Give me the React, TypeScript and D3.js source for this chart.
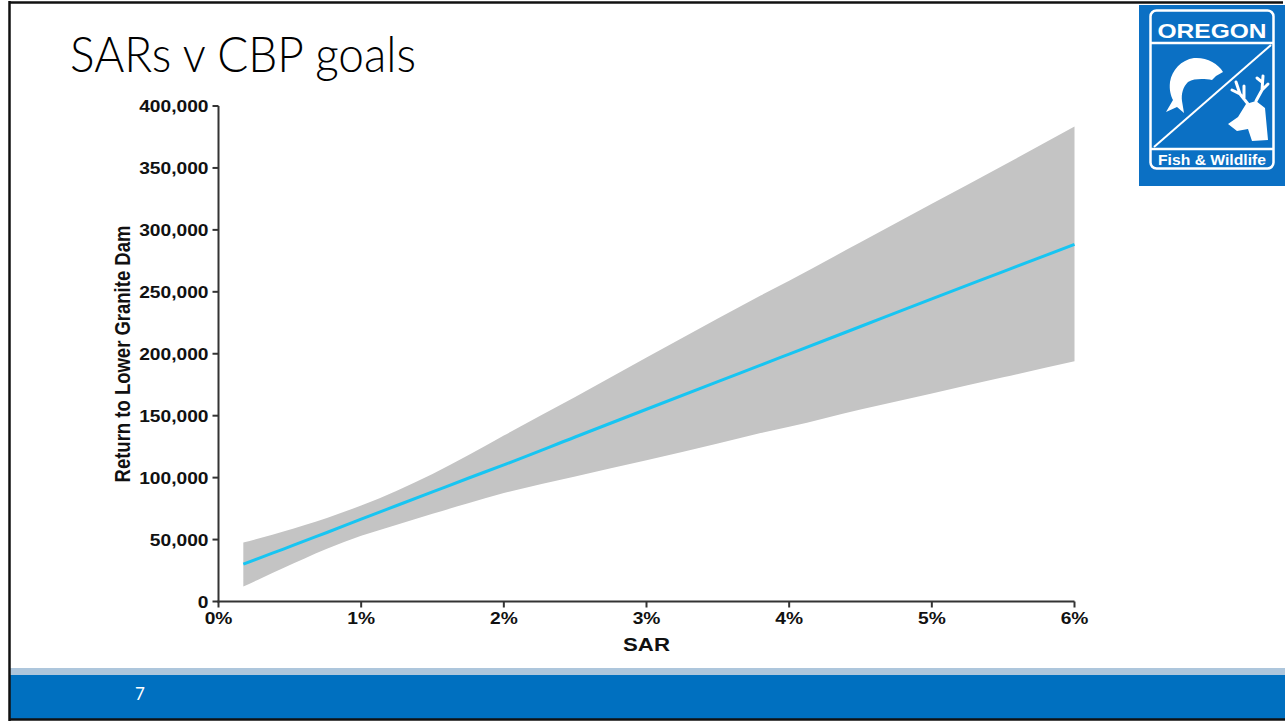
import React from "react";
import * as d3 from "d3";

const sar = [0.174, 0.3, 0.455, 0.6, 0.76, 1.0, 1.25, 1.5, 1.75, 2.0, 2.5, 3.0, 3.5, 3.8, 4.0, 4.5, 5.0, 5.5, 6.0];
const meanReturn = [30150, 35700, 42300, 48800, 55700, 66500, 77500, 88500, 99500, 110300, 132800, 155200, 177500, 190800, 199700, 222000, 244300, 266300, 288300];
const upperReturn = [47600, 51500, 56500, 61500, 67500, 77500, 89500, 103000, 118000, 134000, 165000, 197000, 228500, 247000, 259000, 290000, 321000, 352000, 383500];
const lowerReturn = [12100, 18800, 27000, 34500, 42500, 53000, 62000, 70800, 79300, 87500, 101000, 114000, 127500, 136000, 141000, 155000, 168000, 181000, 194000];

const xTicks = [0, 1, 2, 3, 4, 5, 6];
const yTicks = [0, 50000, 100000, 150000, 200000, 250000, 300000, 350000, 400000];

const title = "SARs v CBP goals";
const xTitle = "SAR";
const yTitle = "Return to Lower Granite Dam";
const pageNumber = "7";

const W = 1285;
const H = 721;

export default function App() {
  const x = d3.scaleLinear().domain([0, 6]).range([218.5, 1074.5]);
  const y = d3.scaleLinear().domain([0, 400000]).range([601.5, 106]);
  const pts = sar.map((s, i) => ({ s, m: meanReturn[i], u: upperReturn[i], l: lowerReturn[i] }));
  const area = d3
    .area<any>()
    .x((d) => x(d.s))
    .y0((d) => y(d.l))
    .y1((d) => y(d.u))
    .curve(d3.curveMonotoneX);
  const line = d3
    .line<any>()
    .x((d) => x(d.s))
    .y((d) => y(d.m))
    .curve(d3.curveMonotoneX);
  const fmt = d3.format(",");
  const axisColor = "#333333";
  const font = "'Liberation Sans', Arial, sans-serif";
  const sx = 1.2;

  return (
    <svg width={W} height={H} style={{ position: "absolute", left: 0, top: 0, background: "#fff" }}>
      <rect x={0} y={0} width={W} height={H} fill="#ffffff" />
      {/* footer bars */}
      <rect x={10} y={668} width={W - 10} height={7} fill="#adc6dc" />
      <rect x={10} y={675} width={W - 10} height={44} fill="#0070c0" />
      <text x={140} y={700} fill="#ffffff" fontFamily="Lato, 'Open Sans', sans-serif" fontSize={17} textAnchor="middle">
        {pageNumber}
      </text>
      {/* slide border */}
      <line x1={9.5} y1={1} x2={9.5} y2={721} stroke="#111" strokeWidth={2.5} />
      <line x1={9} y1={2.5} x2={1283} y2={2.5} stroke="#111" strokeWidth={2.5} />
      <line x1={9} y1={719.5} x2={W} y2={719.5} stroke="#111" strokeWidth={2.5} />

      {/* title */}
      <text x={70} y={72} fontFamily="Lato, 'Open Sans', sans-serif" fontWeight={300} fontSize={49} fill="#000" textLength={346} lengthAdjust="spacingAndGlyphs">
        {title}
      </text>

      {/* logo */}
      <g>
        <rect x={1139} y={5} width={146} height={181} fill="#0b70c4" />
        <rect x={1150.5} y={10.5} width={123} height={158} rx={6} fill="none" stroke="#fff" strokeWidth={2.5} />
        <line x1={1150} y1={43} x2={1274} y2={43} stroke="#fff" strokeWidth={2.5} />
        <line x1={1150} y1={149} x2={1274} y2={149} stroke="#fff" strokeWidth={2.5} />
        <line x1={1154} y1={147} x2={1271} y2={45} stroke="#fff" strokeWidth={2} />
        <text x={1212} y={38} fill="#fff" fontFamily={font} fontWeight={700} fontSize={21} textAnchor="middle" textLength={109} lengthAdjust="spacingAndGlyphs">
          OREGON
        </text>
        <text x={1212} y={165} fill="#fff" fontFamily={font} fontWeight={700} fontSize={15} textAnchor="middle" textLength={108} lengthAdjust="spacingAndGlyphs">
          Fish &amp; Wildlife
        </text>
        <path
          d="M1223,72 C1218,63 1206,57 1194,58 C1181,60 1172,70 1170,82 C1169,90 1171,96 1173,100 L1166,112 L1177,107 L1184,113 L1182,101 C1181,94 1183,87 1188,82 C1195,78 1205,79 1212,80 L1216,76 Z"
          fill="#fff"
        />
        <path d="M1228,124 L1238,117 L1246,104 L1256,101 L1265,108 L1268,140 L1252,141 L1248,129 L1237,131 Z" fill="#fff" />
        <path
          d="M1248,104 L1240,94 L1232,90 M1240,94 L1236,82 M1244,99 L1244,86 M1256,101 L1262,90 L1263,76 M1262,90 L1268,84 M1262,82 L1257,78"
          stroke="#fff"
          strokeWidth={3}
          fill="none"
          strokeLinecap="round"
        />
      </g>

      {/* band and line */}
      <path d={area(pts) || ""} fill="#c4c4c4" />
      <path d={line(pts) || ""} fill="none" stroke="#17c5f2" strokeWidth={3} />

      {/* axes */}
      <line x1={x(0)} y1={y(400000)} x2={x(0)} y2={y(0) + 1} stroke={axisColor} strokeWidth={2} />
      <line x1={x(0) - 1} y1={y(0)} x2={x(6)} y2={y(0)} stroke={axisColor} strokeWidth={2} />
      {yTicks.map((t) => (
        <g key={"y" + t}>
          <line x1={x(0) - 6} x2={x(0)} y1={y(t)} y2={y(t)} stroke={axisColor} strokeWidth={2} />
          <text
            transform={`translate(${x(0) - 10},${y(t) + 6}) scale(${sx},1)`}
            textAnchor="end"
            fontFamily={font}
            fontWeight={700}
            fontSize={16}
            fill="#111"
          >
            {fmt(t)}
          </text>
        </g>
      ))}
      {xTicks.map((t) => (
        <g key={"x" + t}>
          <line x1={x(t)} x2={x(t)} y1={y(0)} y2={y(0) + 6} stroke={axisColor} strokeWidth={2} />
          <text
            transform={`translate(${x(t)},${y(0) + 22}) scale(${sx},1)`}
            textAnchor="middle"
            fontFamily={font}
            fontWeight={700}
            fontSize={16}
            fill="#111"
          >
            {t + "%"}
          </text>
        </g>
      ))}
      <text
        transform={`translate(${(x(0) + x(6)) / 2},651) scale(${sx},1)`}
        textAnchor="middle"
        fontFamily={font}
        fontWeight={700}
        fontSize={18.5}
        fill="#111"
      >
        {xTitle}
      </text>
      <text
        transform={`translate(130,${354}) scale(${sx},1) rotate(-90)`}
        textAnchor="middle"
        fontFamily={font}
        fontWeight={700}
        fontSize={18.5}
        fill="#111"
      >
        {yTitle}
      </text>
    </svg>
  );
}
